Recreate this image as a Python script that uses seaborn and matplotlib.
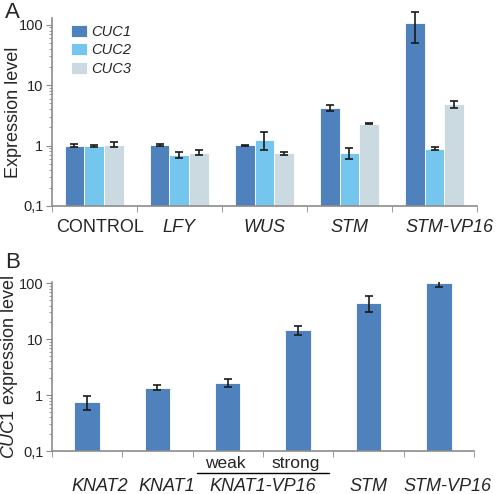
import pandas as pd
import numpy as np
import seaborn as sns
import matplotlib.pyplot as plt
from matplotlib.ticker import FixedLocator, FixedFormatter, LogLocator

# panel A data
genes_a = ['CONTROL', 'LFY', 'WUS', 'STM', 'STM-VP16']
cuc1 = [1.0, 1.02, 1.02, 4.2, 105]
cuc2 = [0.98, 0.70, 1.25, 0.76, 0.88]
cuc3 = [1.03, 0.76, 0.74, 2.3, 4.8]
cuc1_err = [0.05, 0.04, 0.02, 0.45, 55]
cuc2_err = [0.03, 0.08, 0.40, 0.15, 0.05]
cuc3_err = [0.10, 0.07, 0.03, 0.04, 0.6]

# panel B data
lines_b = ['KNAT2', 'KNAT1', 'weak', 'strong', 'STM', 'STM-VP16']
cuc1_b = [0.76, 1.36, 1.68, 14.3, 45, 100]
cuc1_b_err = [0.22, 0.15, 0.30, 2.6, 14, 13]

colors = ['#4F81BD', '#75C6EF', '#CBD9E1']
grey = '#8C8C8C'

sns.set_style('white')
plt.rcParams['font.family'] = ['Liberation Sans', 'DejaVu Sans']
plt.rcParams['mathtext.fontset'] = 'custom'
plt.rcParams['mathtext.it'] = 'Liberation Sans:italic'
plt.rcParams['mathtext.rm'] = 'Liberation Sans'

df_a = pd.DataFrame({
    'gene': genes_a * 3,
    'cuc': ['CUC1'] * 5 + ['CUC2'] * 5 + ['CUC3'] * 5,
    'value': cuc1 + cuc2 + cuc3,
    'err': cuc1_err + cuc2_err + cuc3_err,
})
df_b = pd.DataFrame({'line': lines_b, 'value': cuc1_b, 'err': cuc1_b_err})

fig = plt.figure(figsize=(4.98, 4.94), dpi=100)
ax1 = fig.add_axes([0.104, 0.583, 0.854, 0.381])
ax2 = fig.add_axes([0.104, 0.087, 0.848, 0.342])


def style_axis(ax, top):
    ax.set_yscale('log')
    ax.set_ylim(0.1, top)
    ax.yaxis.set_major_locator(FixedLocator([0.1, 1, 10, 100]))
    ax.yaxis.set_major_formatter(FixedFormatter(['0,1', '1', '10', '100']))
    ax.yaxis.set_minor_locator(LogLocator(base=10, subs=np.arange(2, 10)))
    ax.tick_params(axis='y', which='major', length=4, color=grey, labelsize=10.5, pad=2, left=True)
    ax.tick_params(axis='y', which='minor', length=2, color=grey, left=True)
    for s in ['top', 'right']:
        ax.spines[s].set_visible(False)
    for s in ['left', 'bottom']:
        ax.spines[s].set_color(grey)
        ax.spines[s].set_linewidth(1.2)
    n = len(ax.get_xticks())
    ax.set_xlim(-0.5, n - 0.5)
    ax.set_xticks(np.arange(-0.5, n, 1.0), minor=True)
    ax.tick_params(axis='x', which='minor', length=4, color=grey, bottom=True, direction='out')
    ax.tick_params(axis='x', which='major', length=0)
    ax.set_xticklabels([])
    ax.set_xlabel('')


def put_label(ax, x, text, dx, dy, size, italic=True):
    ax.annotate(text, (x, 0), xycoords=ax.get_xaxis_transform(), xytext=(dx, dy),
                textcoords='offset points', ha='center', va='baseline', fontsize=size,
                style='italic' if italic else 'normal', annotation_clip=False)


# Panel A
ax1.set_yscale('log')
sns.barplot(data=df_a, x='gene', y='value', hue='cuc', palette=colors, width=0.7,
            saturation=1, errorbar=None, edgecolor='white', linewidth=0.6, ax=ax1)
for cont, lvl in zip(ax1.containers, ['CUC1', 'CUC2', 'CUC3']):
    sub = df_a[df_a['cuc'] == lvl]
    xs = [p.get_x() + p.get_width() / 2 for p in cont.patches]
    eb = ax1.errorbar(xs, sub['value'], yerr=sub['err'], fmt='none', ecolor='#1a1a1a',
                      elinewidth=1.2, capsize=3, capthick=1.2)
    for art in eb.get_children():
        art.set_clip_on(False)
style_axis(ax1, 130)
ax1.set_ylabel('Expression level', fontsize=13)
ax1.yaxis.set_label_coords(-0.071, 0.5)
a_shift = [4, 0, 0, 0, 11]
for i, name in enumerate(genes_a):
    put_label(ax1, i, name, a_shift[i], -18.5, 13, italic=(name != 'CONTROL'))
leg = ax1.legend(loc='upper left', bbox_to_anchor=(0.044, 0.963), frameon=False,
                 borderaxespad=0, borderpad=0,
                 handlelength=1.1, handleheight=0.9, handletextpad=0.35,
                 labelspacing=0.3, fontsize=10.5)
for t in leg.get_texts():
    t.set_style('italic')

# Panel B
ax2.set_yscale('log')
sns.barplot(data=df_b, x='line', y='value', color=colors[0], width=0.36, saturation=1,
            errorbar=None, edgecolor='white', linewidth=0.6, ax=ax2)
xs = [p.get_x() + p.get_width() / 2 for p in ax2.containers[0].patches]
ax2.errorbar(xs, df_b['value'], yerr=df_b['err'], fmt='none', ecolor='#1a1a1a',
             elinewidth=1.2, capsize=3, capthick=1.2)
style_axis(ax2, 105)
ax2.set_ylabel('$\\it{CUC1}$ expression level', fontsize=13)
ax2.yaxis.set_label_coords(-0.076, 0.5)
b_shift = [9, 7, -2, -2, 0, 6]
for i, name in enumerate(lines_b):
    if name in ('weak', 'strong'):
        put_label(ax2, i, name, b_shift[i], -12.2, 12.5, italic=False)
    else:
        put_label(ax2, i, name, b_shift[i], -28.6, 13)
put_label(ax2, 2.5, 'KNAT1-VP16', 0, -28.6, 13)
ax2.plot([1.56, 3.44], [0.1 * 10 ** (-0.4), 0.1 * 10 ** (-0.4)], color='black', lw=1.0,
         clip_on=False)

fig.text(0.01, 0.995, 'A', fontsize=16, va='top', ha='left')
fig.text(0.01, 0.49, 'B', fontsize=16, va='top', ha='left')

fig.savefig('out.png', dpi=100)
